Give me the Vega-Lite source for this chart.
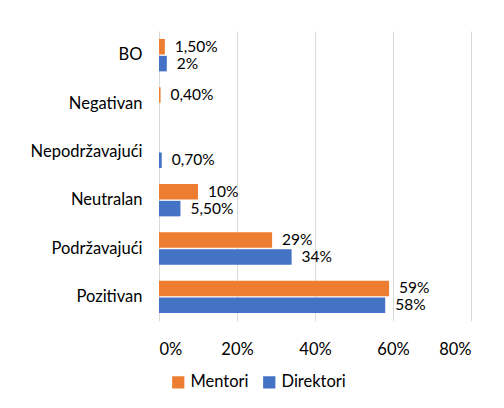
{
  "$schema": "https://vega.github.io/schema/vega-lite/v6.json",
  "width": 312,
  "height": 290,
  "autosize": {"type": "none"},
  "padding": {"left": 159, "top": 31, "right": 33, "bottom": 87},
  "background": "white",
  "config": {
    "view": {"stroke": null},
    "font": "Lato",
    "axis": {"labelFont": "Lato", "labelColor": "#000000"},
    "legend": {"labelFont": "Lato"}
  },
  "data": {
    "values": [
      {"kategorija": "BO", "grupa": "Mentori", "vrijednost": 1.5, "oznaka": "1,50%"},
      {"kategorija": "BO", "grupa": "Direktori", "vrijednost": 2, "oznaka": "2%"},
      {"kategorija": "Negativan", "grupa": "Mentori", "vrijednost": 0.4, "oznaka": "0,40%"},
      {"kategorija": "Nepodržavajući", "grupa": "Direktori", "vrijednost": 0.7, "oznaka": "0,70%"},
      {"kategorija": "Neutralan", "grupa": "Mentori", "vrijednost": 10, "oznaka": "10%"},
      {"kategorija": "Neutralan", "grupa": "Direktori", "vrijednost": 5.5, "oznaka": "5,50%"},
      {"kategorija": "Podržavajući", "grupa": "Mentori", "vrijednost": 29, "oznaka": "29%"},
      {"kategorija": "Podržavajući", "grupa": "Direktori", "vrijednost": 34, "oznaka": "34%"},
      {"kategorija": "Pozitivan", "grupa": "Mentori", "vrijednost": 59, "oznaka": "59%"},
      {"kategorija": "Pozitivan", "grupa": "Direktori", "vrijednost": 58, "oznaka": "58%"}
    ]
  },
  "encoding": {
    "y": {
      "field": "kategorija",
      "type": "nominal",
      "sort": ["BO", "Negativan", "Nepodržavajući", "Neutralan", "Podržavajući", "Pozitivan"],
      "scale": {"paddingInner": 0.33, "paddingOuter": 0.165},
      "axis": {"title": null, "domain": false, "ticks": false, "labelPadding": 17, "labelFontSize": 16.5, "labelFontWeight": "normal", "labelColor": "#000000"}
    },
    "yOffset": {
      "field": "grupa",
      "type": "nominal",
      "sort": ["Mentori", "Direktori"],
      "scale": {"paddingInner": 0.08}
    },
    "x": {
      "field": "vrijednost",
      "type": "quantitative",
      "scale": {"domain": [0, 80]},
      "axis": {
        "title": null,
        "values": [0, 20, 40, 60, 80],
        "labelExpr": "datum.value + '%'",
        "domain": false,
        "ticks": false,
        "grid": true,
        "gridColor": "#d9d9d9",
        "gridWidth": 1,
        "labelPadding": 20,
        "labelFontSize": 16.5,
        "labelFontWeight": "normal",
        "labelColor": "#000000"
      }
    }
  },
  "layer": [
    {
      "mark": {"type": "bar"},
      "encoding": {
        "color": {
          "field": "grupa",
          "type": "nominal",
          "sort": ["Mentori", "Direktori"],
          "scale": {"domain": ["Mentori", "Direktori"], "range": ["#ED7D31", "#4472C4"]},
          "legend": {
            "title": null,
            "orient": "none",
            "direction": "horizontal",
            "legendX": 11,
            "legendY": 343,
            "symbolType": "square",
            "symbolSize": 150,
            "symbolStrokeWidth": 0,
            "labelFontSize": 16.5,
            "labelFontWeight": "normal",
            "labelColor": "#000000",
            "columnPadding": 12,
            "labelOffset": 4
          }
        }
      }
    },
    {
      "mark": {"type": "text", "align": "left", "baseline": "middle", "dx": 10, "fontSize": 15.5, "color": "#000000", "font": "Lato"},
      "encoding": {
        "text": {"field": "oznaka"}
      }
    }
  ]
}
